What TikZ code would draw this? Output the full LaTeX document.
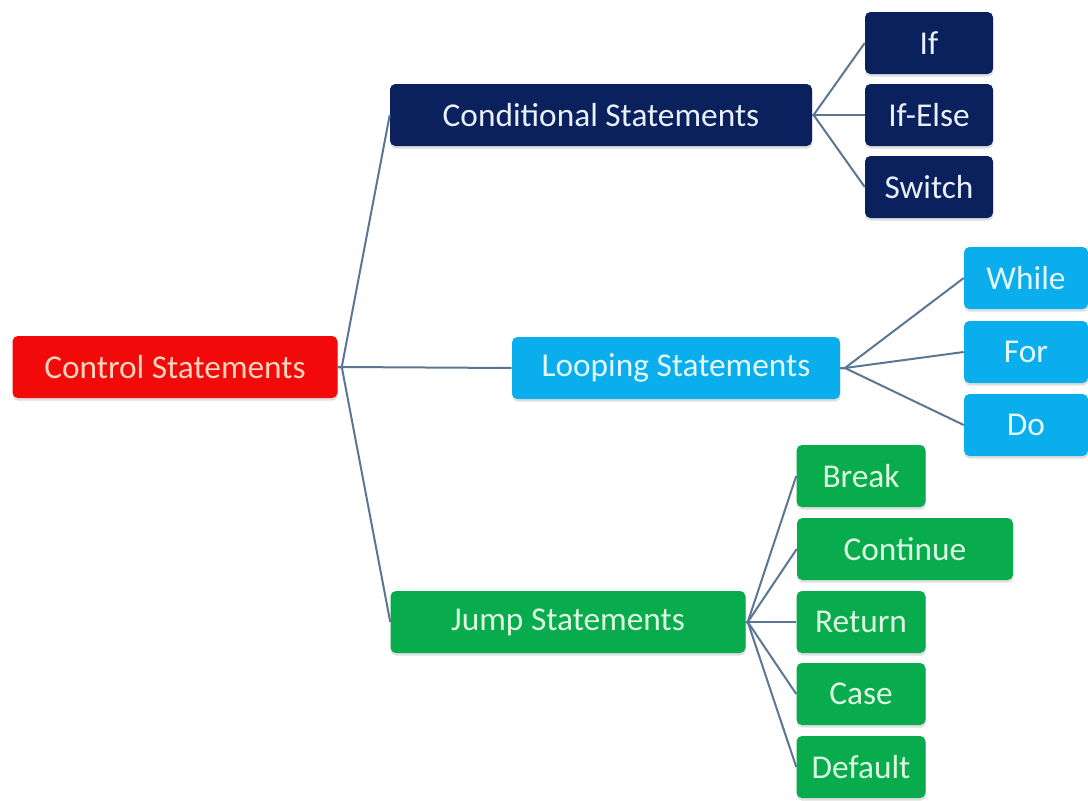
\documentclass[tikz,border=0pt]{standalone}
\usepackage{fontspec}
\setmainfont{Carlito}
\usetikzlibrary{shadows}
\definecolor{rootred}{HTML}{F20A0A}
\definecolor{navy}{HTML}{0A215E}
\definecolor{sky}{HTML}{0AAEEC}
\definecolor{leaf}{HTML}{08AC4C}
\definecolor{linkcol}{HTML}{5A7694}
\definecolor{peach}{HTML}{FBD3BE}
\definecolor{paleblue}{HTML}{EAF0FA}
\definecolor{palesky}{HTML}{E4F7FF}
\definecolor{palegreen}{HTML}{DDF7E2}
\begin{document}
\begin{tikzpicture}[x=0.75pt,y=-0.75pt,
  box/.style={rounded corners=4pt, inner sep=0pt, minimum height=46.5pt,
    font=\fontsize{25}{30}\selectfont,
    drop shadow={opacity=0.25, shadow xshift=0.3pt, shadow yshift=-2pt}},
  rootbox/.style={box, fill=rootred, text=peach},
  navybox/.style={box, fill=navy, text=paleblue},
  skybox/.style={box, fill=sky, text=palesky},
  greenbox/.style={box, fill=leaf, text=palegreen},
  link/.style={draw=linkcol, line width=1.5pt}]
\useasboundingbox (0,0) rectangle (1088,800);

% root
\node[rootbox, minimum width=243.75pt] (root) at (175,367) {Control Statements};

% second level
\node[navybox, minimum width=316.5pt] (cond) at (601,115) {Conditional Statements};
\node[skybox, minimum width=246pt] (loop) at (676,368) {Looping Statements};
\node[greenbox, minimum width=266.25pt] (jump) at (568,622) {Jump Statements};

% conditional branches
\node[navybox, minimum width=96pt] (if) at (929,43) {If};
\node[navybox, minimum width=96pt] (ifelse) at (929,115) {If-Else};
\node[navybox, minimum width=96pt] (switch) at (929,187) {Switch};

% looping branches
\node[skybox, minimum width=93pt] (while) at (1026,278) {While};
\node[skybox, minimum width=93pt] (for) at (1026,352) {For};
\node[skybox, minimum width=93pt] (do) at (1026,425) {Do};

% jump branches
\node[greenbox, minimum width=96.75pt] (break) at (861,476) {Break};
\node[greenbox, minimum width=162pt] (continue) at (905,549) {Continue};
\node[greenbox, minimum width=96.75pt] (return) at (861,622) {Return};
\node[greenbox, minimum width=96.75pt] (case) at (861,694) {Case};
\node[greenbox, minimum width=96.75pt] (default) at (861,767) {Default};

% hubs where the branch lines meet
\coordinate (hr) at ([xshift=3pt]root.east);
\coordinate (hc) at ([xshift=1pt]cond.east);
\coordinate (hl) at ([xshift=3.5pt]loop.east);
\coordinate (hj) at ([xshift=1.5pt]jump.east);

% connectors
\foreach \t in {cond,loop,jump} \draw[link] (root.east) -- (hr) -- (\t.west);
\foreach \t in {if,ifelse,switch} \draw[link] (cond.east) -- (hc) -- (\t.west);
\foreach \t in {while,for,do} \draw[link] (loop.east) -- (hl) -- (\t.west);
\foreach \t in {break,continue,return,case,default} \draw[link] (jump.east) -- (hj) -- (\t.west);
\end{tikzpicture}
\end{document}
